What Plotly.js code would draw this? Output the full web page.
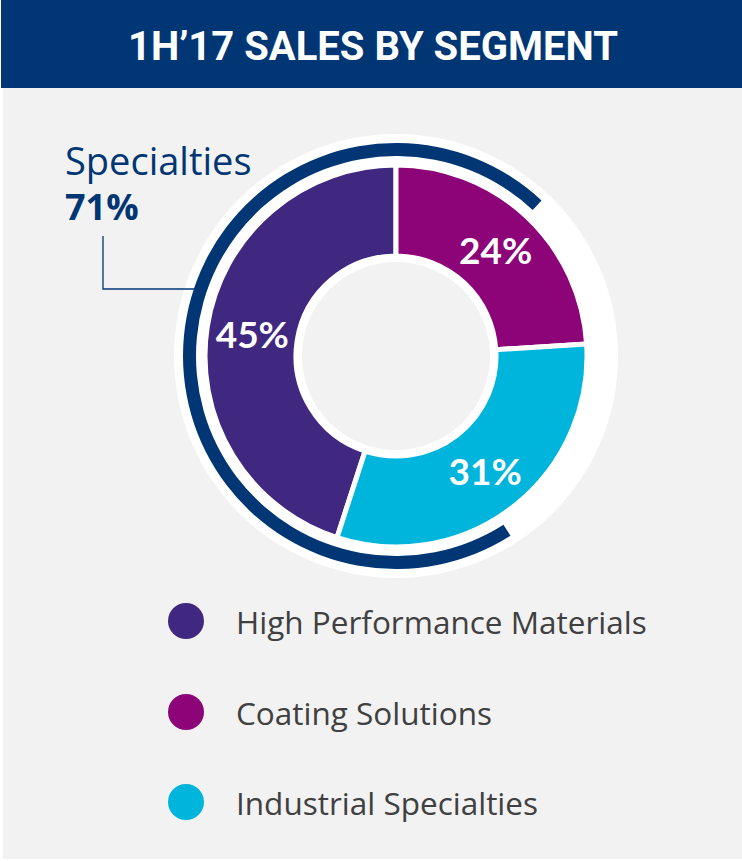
<!DOCTYPE html>
<html>
<head>
<meta charset="utf-8">
<script src="https://cdn.plot.ly/plotly-3.0.1.min.js"></script>
<style>html,body{margin:0;padding:0;background:#fff;}#chart{width:742px;height:861px;}</style>
</head>
<body>
<div id="chart"></div>
<script>
// ---- data ----
var segments = ["High Performance Materials", "Coating Solutions", "Industrial Specialties"];
var shares = [45, 24, 31];
var segmentColors = ["#40277f", "#8c0477", "#00b5dc"];
var groupLabel = "Specialties";
var groupShare = 71;
var titleText = "1H\u201917 SALES BY SEGMENT";

// ---- layout helpers (pixel geometry) ----
var W = 742, H = 861;
var cx = 396, cy = 356;
function dom(r) {
  return {
    x: [(cx - r) / W, (cx + r) / W],
    y: [1 - (cy + r) / H, 1 - (cy - r) / H]
  };
}
var DARK = "#003673";
var GRAY = "#f2f2f2";
var BODYFONT = "'Open Sans', Lato, sans-serif";

var traces = [];
// white disc behind
traces.push({
  type: "pie", values: [1], labels: ["bg"], domain: dom(222),
  marker: { colors: ["#ffffff"], line: { width: 0 } },
  textinfo: "none", hoverinfo: "skip", showlegend: false, sort: false
});
// specialties arc
traces.push({
  type: "pie", values: [groupShare, 100 - groupShare], labels: ["arc", "rest"],
  domain: dom(213), hole: 200 / 213, rotation: 147.5, direction: "clockwise", sort: false,
  marker: { colors: [DARK, "rgba(0,0,0,0)"], line: { width: 0 } },
  textinfo: "none", hoverinfo: "skip", showlegend: false
});
// main donut
traces.push({
  type: "pie", values: shares, labels: segments, domain: dom(191), hole: 100 / 191,
  rotation: 198, direction: "clockwise", sort: false,
  marker: { colors: segmentColors, line: { color: "#ffffff", width: 5 } },
  texttemplate: "%{value}%", textposition: "inside", insidetextorientation: "horizontal",
  textfont: { family: "Lato, 'Open Sans', sans-serif", size: 37, color: "#ffffff", weight: "bold" },
  hoverinfo: "label+percent", showlegend: false
});
// gray centre
traces.push({
  type: "pie", values: [1], labels: ["c"], domain: dom(94),
  marker: { colors: [GRAY], line: { width: 0 } },
  textinfo: "none", hoverinfo: "skip", showlegend: false, sort: false
});

var shapes = [
  { type: "rect", xref: "paper", yref: "paper", x0: 3 / W, x1: 1, y0: 2 / H, y1: 1 - 88 / H,
    fillcolor: GRAY, line: { width: 0 }, layer: "below" },
  { type: "rect", xref: "paper", yref: "paper", x0: 1 / W, x1: 1, y0: 1 - 88 / H, y1: 1,
    fillcolor: DARK, line: { width: 0 }, layer: "below" },
  { type: "path", xref: "paper", yref: "paper",
    path: "M " + (103 / W) + "," + (1 - 236 / H) + " L " + (103 / W) + "," + (1 - 289 / H) + " L " + (196 / W) + "," + (1 - 289 / H),
    line: { color: DARK, width: 1.3 } }
];

var annotations = [
  { text: "<b>" + titleText + "</b>", xref: "paper", yref: "paper", x: 373 / W, y: 1 - 46 / H,
    xanchor: "center", yanchor: "middle", showarrow: false,
    font: { family: "Roboto, sans-serif", size: 40, color: "#ffffff" } },
  { text: groupLabel, xref: "paper", yref: "paper", x: 63 / W, y: 1 - 160 / H,
    xanchor: "left", yanchor: "middle", showarrow: false,
    font: { family: BODYFONT, size: 38, color: DARK } },
  { text: "<b>" + groupShare + "%</b>", xref: "paper", yref: "paper", x: 63 / W, y: 1 - 206 / H,
    xanchor: "left", yanchor: "middle", showarrow: false,
    font: { family: BODYFONT, size: 36, color: DARK } }
];

var legendY = [621, 712, 802];
for (var i = 0; i < segments.length; i++) {
  shapes.push({ type: "circle", xref: "paper", yref: "paper",
    x0: (186 - 18) / W, x1: (186 + 18) / W, y0: 1 - (legendY[i] + 18) / H, y1: 1 - (legendY[i] - 18) / H,
    fillcolor: segmentColors[i], line: { width: 0 } });
  annotations.push({ text: segments[i], xref: "paper", yref: "paper", x: 234 / W, y: 1 - legendY[i] / H,
    xanchor: "left", yanchor: "middle", showarrow: false,
    font: { family: BODYFONT, size: 31.5, color: "#404040" } });
}

var layout = {
  width: W, height: H, margin: { l: 0, r: 0, t: 0, b: 0 },
  paper_bgcolor: "#ffffff", plot_bgcolor: "rgba(0,0,0,0)",
  showlegend: false, shapes: shapes, annotations: annotations
};
Plotly.newPlot("chart", traces, layout, { displayModeBar: false, staticPlot: true });
</script>
</body>
</html>
